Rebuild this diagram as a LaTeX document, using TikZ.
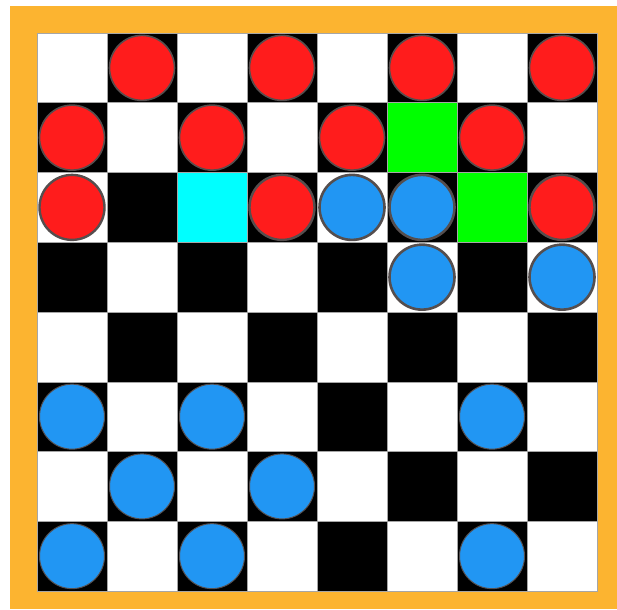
\documentclass[tikz,border=0pt]{standalone}
\definecolor{frameorange}{RGB}{252,180,48}
\definecolor{piecered}{RGB}{255,28,28}
\definecolor{pieceblue}{RGB}{33,150,243}
\definecolor{rimgray}{RGB}{85,78,78}
\definecolor{hlgreen}{RGB}{0,255,0}
\definecolor{hlcyan}{RGB}{0,255,255}
\begin{document}
\begin{tikzpicture}[x=1pt,y=-1pt,
  sq/.style={draw=gray!70,line width=0.5pt},
  redpiece/.style={fill=piecered,draw=rimgray,line width=#1},
  bluepiece/.style={fill=pieceblue,draw=rimgray,line width=#1}]
\useasboundingbox (0,0) rectangle (617,609);
\fill[white] (0,0) rectangle (617,609);
\fill[frameorange] (10,6) rectangle (617,609);
% squares
\foreach \r in {0,...,7}{
  \foreach \c in {0,...,7}{
    \pgfmathtruncatemacro{\p}{mod(\r+\c,2)}
    \ifnum\p=1
      \filldraw[sq,fill=black] ({37+70*\c},{33+69.75*\r}) rectangle ++(70,69.75);
    \else
      \filldraw[sq,fill=white] ({37+70*\c},{33+69.75*\r}) rectangle ++(70,69.75);
    \fi
  }
}
% highlighted squares
\filldraw[sq,fill=hlgreen] ({37+70*5},{33+69.75*1}) rectangle ++(70,69.75);
\filldraw[sq,fill=hlgreen] ({37+70*6},{33+69.75*2}) rectangle ++(70,69.75);
\filldraw[sq,fill=hlcyan] ({37+70*2},{33+69.75*2}) rectangle ++(70,69.75);
% red pieces
\foreach \c/\r/\w in {1/0/1.6pt,3/0/1.6pt,5/0/1.6pt,7/0/1.6pt,
                      0/1/1.6pt,2/1/1.6pt,4/1/1.6pt,6/1/1.6pt,
                      0/2/2.4pt,3/2/2.4pt,7/2/2.4pt}{
  \draw[redpiece=\w] ({72+70*\c},{67.9+69.75*\r}) circle (32.5);
}
% blue pieces
\foreach \c/\r/\w in {4/2/2.6pt,5/2/2.6pt,5/3/2.6pt,7/3/2.6pt,
                      0/5/1pt,2/5/1pt,6/5/1pt,
                      1/6/1pt,3/6/1pt,
                      0/7/1pt,2/7/1pt,6/7/1pt}{
  \draw[bluepiece=\w] ({72+70*\c},{67.9+69.75*\r}) circle (32.5);
}
\end{tikzpicture}
\end{document}
